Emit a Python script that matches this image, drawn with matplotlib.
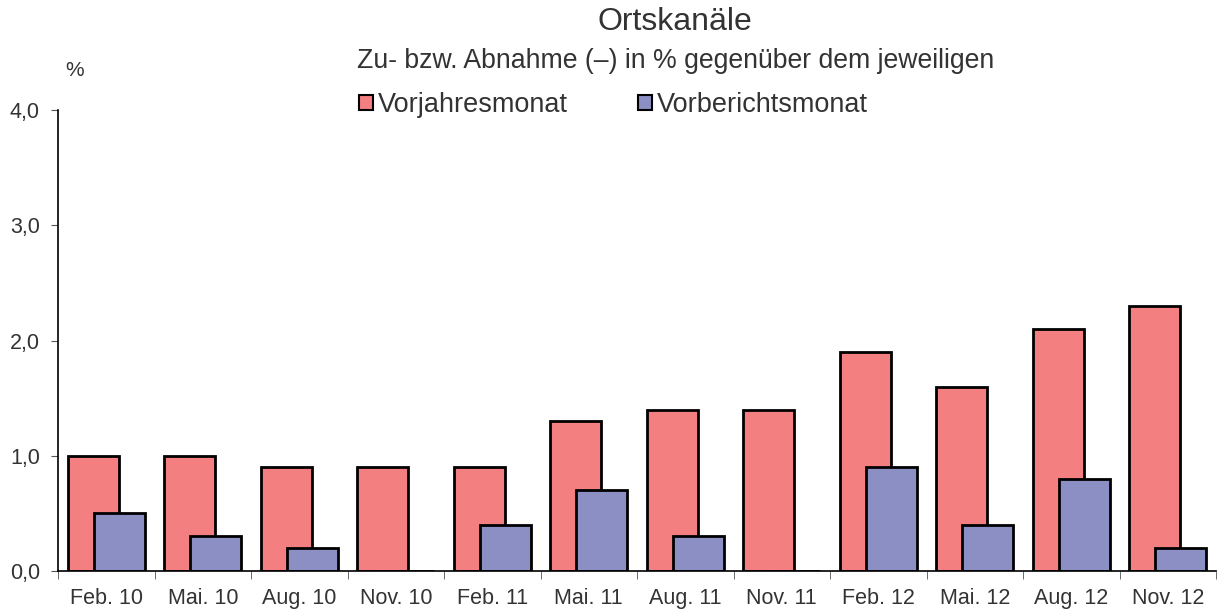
import numpy as np
import matplotlib.pyplot as plt
from matplotlib.patches import Patch

plt.rcParams['font.family'] = ['Liberation Sans', 'DejaVu Sans']

# Daten
monate = ['Feb. 10', 'Mai. 10', 'Aug. 10', 'Nov. 10', 'Feb. 11', 'Mai. 11',
          'Aug. 11', 'Nov. 11', 'Feb. 12', 'Mai. 12', 'Aug. 12', 'Nov. 12']
vorjahresmonat = [1.0, 1.0, 0.9, 0.9, 0.9, 1.3, 1.4, 1.4, 1.9, 1.6, 2.1, 2.3]
vorberichtsmonat = [0.5, 0.3, 0.2, 0.0, 0.4, 0.7, 0.3, 0.0, 0.9, 0.4, 0.8, 0.2]

rot = '#F47F81'
blau = '#8C8FC4'
txt = '#333333'

fig = plt.figure(figsize=(12.24, 6.10), dpi=100)
ax = fig.add_axes([58/1224, 39/610, 1158/1224, 461/610])

x = np.arange(len(monate))
w = 0.53
ax.bar(x - 0.135, vorjahresmonat, w, color=rot, edgecolor='black', linewidth=2)
ax.bar(x + 0.135, vorberichtsmonat, w, color=blau, edgecolor='black', linewidth=2)

ax.set_xlim(-0.5, len(monate) - 0.5)
ax.set_ylim(0, 4)
ax.set_yticks([0, 1, 2, 3, 4])
ax.set_yticklabels(['0,0', '1,0', '2,0', '3,0', '4,0'], fontsize=15.5, color=txt)
ax.set_xticks(x)
ax.set_xticklabels(monate, fontsize=15.5, color=txt)
ax.tick_params(axis='x', length=0, pad=12)
ax.set_xticks(np.arange(-0.5, len(monate)), minor=True)
ax.tick_params(axis='x', which='minor', length=6, color='#555555', direction='out')
ax.tick_params(axis='y', length=5, color='#555555', pad=8)

ax.spines['top'].set_visible(False)
ax.spines['right'].set_visible(False)
ax.spines['left'].set_linewidth(1.2)
ax.spines['bottom'].set_linewidth(1.2)

fig.text(75/1224, 1 - 70/610, '%', fontsize=15, color=txt, ha='center', va='center')
fig.text(675/1224, 1 - 22/610, 'Ortskanäle', fontsize=23, color=txt, ha='center', va='center')
fig.text(357/1224, 1 - 61/610, 'Zu- bzw. Abnahme (–) in % gegenüber dem jeweiligen',
         fontsize=19.2, color=txt, ha='left', va='center')

handles = [Patch(facecolor=rot, edgecolor='black', linewidth=1.5, label='Vorjahresmonat'),
           Patch(facecolor=blau, edgecolor='black', linewidth=1.5, label='Vorberichtsmonat')]
fig.legend(handles=handles, loc='center left', bbox_to_anchor=(359/1224, 1 - 105/610),
           ncol=2, frameon=False, fontsize=19.5, handlelength=0.5, handleheight=0.5,
           handletextpad=0.2, columnspacing=2.6, labelcolor=txt,
           borderpad=0, borderaxespad=0)

fig.savefig('out.png', dpi=100)
